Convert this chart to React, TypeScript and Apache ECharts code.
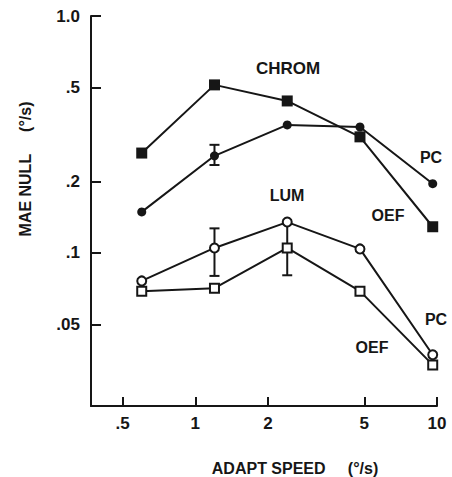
import React, { useEffect, useRef } from "react";
import * as echarts from "echarts";

const xValues = [0.6, 1.2, 2.4, 4.8, 9.6];
const chromOef = [0.264, 0.512, 0.438, 0.309, 0.129];
const chromPc = [0.149, 0.257, 0.347, 0.34, 0.196];
const lumPc = [0.0762, 0.105, 0.135, 0.104, 0.0372];
const lumOef = [0.069, 0.071, 0.105, 0.069, 0.0337];

// [x, low, high]
const errorBars = [
  [1.2, 0.235, 0.286],
  [1.2, 0.08, 0.127],
  [2.4, 0.0805, 0.133],
];

const xTicks = [0.5, 1, 2, 5, 10];
const xTickLabels = [".5", "1", "2", "5", "10"];
const yTicks = [0.05, 0.1, 0.2, 0.5, 1.0];
const yTickLabels = [".05", ".1", ".2", ".5", "1.0"];

const INK = "#161616";
const FONT = "Liberation Sans, Arial, Helvetica, sans-serif";

function pairs(ys: number[]) {
  return xValues.map((x, i) => [x, ys[i]]);
}

export default function App() {
  const ref = useRef<HTMLDivElement>(null);
  useEffect(() => {
    if (!ref.current) return;
    const chart = echarts.init(ref.current, null, { renderer: "svg" });
    const lineBase = {
      type: "line" as const,
      lineStyle: { color: INK, width: 2 },
      itemStyle: { color: INK },
      z: 3,
    };
    const textStyle = (size: number) => ({
      fill: INK,
      fontSize: size,
      fontWeight: "bold",
      fontFamily: FONT,
    });
    chart.setOption({
      animation: false,
      backgroundColor: "#ffffff",
      grid: { left: 91, right: 15, top: 16, bottom: 71 },
      xAxis: {
        type: "log",
        logBase: 10,
        min: 0.37,
        max: 10,
        splitLine: { show: false },
        axisLine: { lineStyle: { color: INK, width: 2 } },
        axisTick: {
          inside: true,
          length: 9,
          lineStyle: { color: INK, width: 2 },
          customValues: xTicks,
        },
        minorTick: { show: false },
        axisLabel: {
          customValues: xTicks,
          formatter: (v: number) => {
            const i = xTicks.findIndex((t) => Math.abs(t - v) < 1e-9);
            return i >= 0 ? xTickLabels[i] : "";
          },
          color: INK,
          fontSize: 17,
          fontWeight: "bold",
          fontFamily: FONT,
          margin: 9,
        },
      },
      yAxis: {
        type: "log",
        logBase: 10,
        min: 0.0226,
        max: 1.0,
        splitLine: { show: false },
        axisLine: { lineStyle: { color: INK, width: 2 } },
        axisTick: {
          inside: true,
          length: 10,
          lineStyle: { color: INK, width: 2 },
          customValues: yTicks,
        },
        minorTick: { show: false },
        axisLabel: {
          customValues: yTicks,
          formatter: (v: number) => {
            const i = yTicks.findIndex((t) => Math.abs(t - v) < 1e-9);
            return i >= 0 ? yTickLabels[i] : "";
          },
          color: INK,
          fontSize: 17,
          fontWeight: "bold",
          fontFamily: FONT,
          margin: 11,
        },
      },
      series: [
        {
          type: "custom",
          z: 1,
          data: errorBars,
          encode: { x: 0, y: [1, 2] },
          renderItem: (_params: any, api: any) => {
            const x = api.value(0);
            const lo = api.coord([x, api.value(1)]);
            const hi = api.coord([x, api.value(2)]);
            const cap = 5;
            const st = { stroke: INK, lineWidth: 2 };
            return {
              type: "group",
              children: [
                { type: "line", shape: { x1: lo[0], y1: lo[1], x2: hi[0], y2: hi[1] }, style: st },
                { type: "line", shape: { x1: lo[0] - cap, y1: lo[1], x2: lo[0] + cap, y2: lo[1] }, style: st },
                { type: "line", shape: { x1: hi[0] - cap, y1: hi[1], x2: hi[0] + cap, y2: hi[1] }, style: st },
              ],
            };
          },
        },
        { ...lineBase, name: "CHROM OEF", data: pairs(chromOef), symbol: "rect", symbolSize: 11 },
        { ...lineBase, name: "CHROM PC", data: pairs(chromPc), symbol: "circle", symbolSize: 9 },
        {
          ...lineBase,
          name: "LUM PC",
          data: pairs(lumPc),
          symbol: "emptyCircle",
          symbolSize: 9,
          itemStyle: { color: INK, borderWidth: 1.5 },
        },
        {
          ...lineBase,
          name: "LUM OEF",
          data: pairs(lumOef),
          symbol: "emptyRect",
          symbolSize: 9,
          itemStyle: { color: INK, borderWidth: 1.5 },
        },
      ],
      graphic: [
        { type: "text", x: 288, y: 68, style: { text: "CHROM", align: "center", verticalAlign: "middle", ...textStyle(17) } },
        { type: "text", x: 287, y: 195, style: { text: "LUM", align: "center", verticalAlign: "middle", ...textStyle(16) } },
        { type: "text", x: 431, y: 157, style: { text: "PC", align: "center", verticalAlign: "middle", ...textStyle(16) } },
        { type: "text", x: 388, y: 215, style: { text: "OEF", align: "center", verticalAlign: "middle", ...textStyle(16) } },
        { type: "text", x: 436, y: 319, style: { text: "PC", align: "center", verticalAlign: "middle", ...textStyle(16) } },
        { type: "text", x: 372, y: 347, style: { text: "OEF", align: "center", verticalAlign: "middle", ...textStyle(16) } },
        { type: "text", x: 295, y: 468, style: { text: "ADAPT SPEED     (°/s)", align: "center", verticalAlign: "middle", ...textStyle(16) } },
        {
          type: "text",
          x: 25,
          y: 169,
          rotation: Math.PI / 2,
          style: { text: "MAE NULL     (°/s)", align: "center", verticalAlign: "middle", ...textStyle(16) },
        },
      ],
    });
    return () => chart.dispose();
  }, []);
  return (
    <div
      ref={ref}
      style={{ position: "fixed", left: 0, top: 0, width: 452, height: 477 }}
    />
  );
}
